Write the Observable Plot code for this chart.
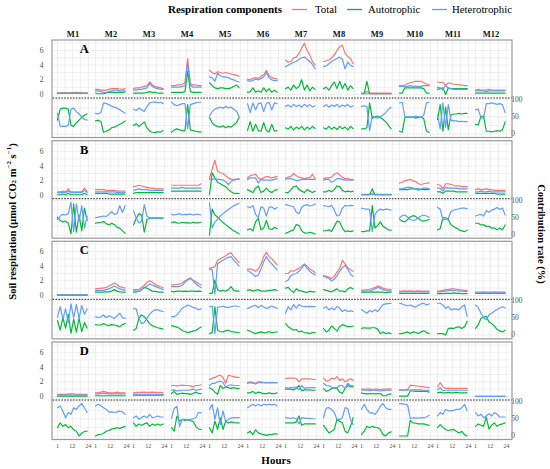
<!DOCTYPE html>
<html><head><meta charset="utf-8">
<script src="https://cdn.jsdelivr.net/npm/d3@7"></script>
<script src="https://cdn.jsdelivr.net/npm/@observablehq/plot@0.6"></script>
<style>
body{margin:0;background:#fff;}
#wrap{position:relative;width:550px;height:469px;overflow:hidden;background:#fff;}
#wrap svg{position:absolute;left:0;}
#wrap svg text{font-family:'Liberation Serif','Times New Roman',serif !important;}
[aria-label^="fx-axis"] text{font-weight:bold;font-size:8.5px;fill:#111;}
[aria-label^="x-axis"] text{font-size:6px;}
</style></head><body><div id="wrap"></div>
<script>
const months = ["M1","M2","M3","M4","M5","M6","M7","M8","M9","M10","M11","M12"];
const hours = [1,3,5,7,9,11,13,15,17,19,21,23];
const seriesNames = ["Total","Autotrophic","Heterotrophic"];
const seriesColors = ["#F8766D","#00BA38","#619CFF"];
const panelLetters = ["A","B","C","D"];
const respTicks = [0,2,4,6];
const respGrid = [0,1,2,3,4,5,6,7];
const rateTicks = [0,50,100];
const rateGrid = [0,25,50,75,100];
const hourTicks = [1,12,24];
const hourGrid = [1,6.5,12,18,24];

// ---- Row A ----
const A_total = [
[0.25,0.2,0.25,0.25,0.2,0.25,0.25,0.3,0.25,0.25,0.2,0.25],
[0.7,0.7,0.6,0.6,0.6,0.7,0.8,0.8,0.8,0.75,0.7,0.8],
[0.8,0.9,0.9,1.0,1.1,1.2,1.7,1.3,1.1,1.0,0.9,0.8],
[1.2,1.2,1.3,1.3,1.4,1.6,4.9,1.5,1.3,1.3,1.2,1.2],
[3.3,3.0,2.8,3.1,3.0,2.9,3.0,2.9,2.8,2.7,2.6,2.5],
[2.1,2.0,2.2,2.3,2.2,2.5,2.7,3.3,2.6,2.3,2.2,2.1],
[4.7,4.4,4.5,5.0,5.1,5.6,6.3,7.0,6.0,5.4,4.5,4.0],
[4.5,4.6,4.7,5.0,5.4,6.0,6.5,6.7,5.6,5.2,4.9,4.2],
[0.2,0.2,0.4,0.2,0.2,0.2,0.2,0.2,0.2,0.2,0.2,0.2],
[1.2,1.2,1.3,1.5,1.6,1.7,1.8,1.8,1.8,1.6,1.4,1.4],
[1.7,1.6,1.7,1.2,1.6,1.5,1.4,1.4,1.3,1.3,1.2,1.2],
[0.6,0.7,0.6,0.6,0.6,0.7,0.6,0.6,0.6,0.6,0.6,0.6]];
const A_auto = [
[0.15,0.15,0.15,0.15,0.15,0.15,0.15,0.15,0.15,0.15,0.15,0.15],
[0.2,0.1,0.1,0.1,0.2,0.3,0.3,0.3,0.3,0.3,0.3,0.35],
[0.2,0.2,0.2,0.2,0.2,0.3,0.4,0.3,0.3,0.2,0.2,0.2],
[0.3,0.3,0.3,0.3,0.3,0.4,3.2,0.4,0.3,0.3,0.3,0.3],
[1.6,1.2,0.9,0.8,0.9,0.9,0.8,0.8,0.9,1.1,1.3,0.9],
[0.3,0.4,0.9,0.3,0.5,0.3,0.9,0.4,0.8,0.3,0.6,0.3],
[0.8,1.0,0.6,1.3,0.8,1.1,2.0,0.6,1.3,0.5,1.0,0.7],
[0.8,1.0,0.6,1.2,1.7,0.8,1.8,0.8,1.5,0.6,1.2,0.8],
[0.1,0.1,1.8,0.1,0.1,0.1,0.1,0.1,0.1,0.1,0.1,0.1],
[0.2,0.2,0.9,0.9,0.9,0.9,0.9,0.9,0.9,0.8,0.2,0.2],
[0.7,0.8,0.9,0.0,0.9,0.8,0.8,0.8,0.8,0.8,0.8,0.8],
[0.2,0.2,0.2,0.2,0.2,0.2,0.2,0.2,0.2,0.2,0.2,0.2]];
const A_het = [
[0.15,0.15,0.15,0.15,0.15,0.15,0.15,0.15,0.15,0.15,0.15,0.15],
[0.5,0.5,0.4,0.3,0.3,0.4,0.5,0.6,0.6,0.5,0.5,0.5],
[0.6,0.6,0.7,0.7,0.8,0.9,1.5,1.1,0.9,0.8,0.7,0.7],
[1.0,1.0,1.0,1.0,1.1,1.2,4.3,1.3,1.0,1.0,1.0,1.0],
[2.4,2.3,1.8,2.9,2.6,2.4,2.4,2.3,2.1,2.0,1.8,1.7],
[1.9,1.8,1.9,2.1,2.0,2.2,2.4,3.0,2.3,2.0,1.9,1.9],
[3.8,4.0,4.2,4.4,4.5,4.8,5.0,5.1,4.8,4.5,4.1,3.5],
[3.8,3.9,4.2,4.5,4.7,4.9,5.1,4.8,3.5,4.4,4.0,3.8],
[0.1,0.1,0.1,0.1,0.1,0.1,0.1,0.1,0.1,0.1,0.1,0.1],
[1.1,1.1,1.1,1.1,1.2,1.1,1.1,1.1,1.1,1.2,1.2,1.2],
[1.0,0.9,0.6,1.3,0.8,0.8,0.7,0.7,0.7,0.7,0.7,0.7],
[0.5,0.5,0.5,0.5,0.4,0.5,0.5,0.5,0.5,0.5,0.5,0.5]];
const A_hetPct = [
[60,23,22,22,25,72,75,65,58,50,42,40],
[60,58,62,90,88,85,80,78,75,70,65,60],
[72,68,75,70,65,80,90,92,93,90,92,88],
[92,85,82,85,88,88,15,85,88,90,92,92],
[52,65,72,75,78,75,80,76,78,72,66,50],
[88,62,90,70,88,90,65,88,92,70,90,88],
[80,84,78,86,80,84,78,86,80,85,78,82],
[80,85,78,84,80,86,78,84,80,86,78,82],
[80,82,80,10,52,48,46,50,55,62,72,78],
[90,92,50,48,50,48,52,50,48,55,90,92],
[55,15,90,20,85,40,38,38,36,37,36,36],
[70,72,48,45,88,88,90,88,86,88,85,62]];
const A_autoPct = [
[40,72,75,75,72,25,22,32,40,48,55,58],
[38,40,36,5,8,12,18,20,24,28,32,38],
[25,30,22,28,35,18,8,5,4,7,5,10],
[5,12,15,12,10,10,85,12,10,8,6,6],
[48,32,25,22,20,24,18,22,20,26,33,48],
[10,36,8,28,10,8,33,10,6,28,8,10],
[18,14,22,12,20,15,22,12,20,14,22,16],
[18,14,22,14,20,13,22,15,20,12,22,16],
[15,15,18,90,45,50,52,48,42,35,25,15],
[8,5,48,50,48,50,46,48,50,44,8,5],
[42,85,8,78,12,55,58,58,60,58,60,60],
[28,26,50,52,8,8,6,8,10,8,12,35]];

// ---- Row B ----
const B_total = [
[0.5,0.5,0.6,0.5,0.9,0.5,0.5,0.5,0.5,0.5,1.0,0.5],
[0.8,0.8,0.8,0.8,0.7,0.7,0.7,0.7,0.6,0.6,0.6,0.6],
[1.2,1.3,1.4,1.3,1.2,1.1,1.0,1.0,0.9,0.9,0.9,0.9],
[1.4,1.4,1.4,1.4,1.4,1.4,1.4,1.4,1.4,1.4,1.4,1.6],
[2.3,3.6,4.8,3.3,3.1,3.0,2.7,2.4,2.2,2.2,2.2,2.3],
[2.4,2.7,2.8,2.9,2.4,2.2,2.4,2.6,2.5,2.4,2.5,2.6],
[2.4,2.5,2.6,3.0,2.7,2.5,2.4,2.3,2.4,2.4,2.9,2.3],
[2.3,2.4,2.4,2.5,2.9,3.1,2.8,2.5,2.3,2.3,2.2,2.2],
[0.15,0.15,0.15,0.15,0.25,0.15,0.15,0.15,0.15,0.15,0.15,0.15],
[1.7,1.8,2.0,2.1,2.2,2.0,1.9,1.6,1.5,1.6,1.7,1.7],
[1.5,1.4,0.9,1.6,1.6,1.5,1.4,1.3,1.3,1.2,1.2,1.2],
[0.8,0.9,0.8,0.8,0.9,0.8,0.8,0.7,0.7,0.7,0.7,0.7]];
const B_auto = [
[0.1,0.1,0.2,0.1,0.3,0.1,0.1,0.1,0.1,0.1,0.3,0.1],
[0.3,0.3,0.3,0.3,0.3,0.2,0.2,0.2,0.2,0.2,0.2,0.2],
[0.3,0.4,0.4,0.4,0.4,0.4,0.4,0.4,0.4,0.4,0.4,0.4],
[0.6,0.6,0.6,0.6,0.6,0.6,0.6,0.6,0.6,0.6,0.6,0.6],
[0.1,3.1,2.4,1.8,1.6,1.4,1.2,0.8,0.5,0.3,0.3,0.3],
[0.8,0.6,0.4,1.0,1.3,0.4,0.6,1.0,0.6,0.4,0.7,0.8],
[0.4,0.4,0.8,1.2,1.3,0.8,0.6,0.4,0.8,0.6,0.4,0.6],
[0.5,0.5,0.7,0.5,0.8,1.3,1.2,0.7,0.5,0.6,0.5,0.6],
[0.1,0.1,0.1,0.1,0.9,0.1,0.1,0.1,0.1,0.1,0.1,0.1],
[0.8,0.8,0.8,0.8,0.9,0.9,0.9,0.9,0.8,0.8,0.8,0.8],
[0.5,0.5,0.3,0.6,0.6,0.6,0.6,0.5,0.5,0.5,0.5,0.5],
[0.3,0.3,0.3,0.3,0.3,0.3,0.3,0.3,0.2,0.2,0.2,0.2]];
const B_het = [
[0.4,0.4,0.4,0.4,0.6,0.4,0.4,0.4,0.4,0.4,0.7,0.4],
[0.5,0.5,0.5,0.5,0.5,0.5,0.5,0.5,0.4,0.4,0.4,0.4],
[0.7,0.8,0.9,0.8,0.8,0.8,0.7,0.7,0.7,0.7,0.7,0.7],
[1.0,1.0,1.0,1.0,1.1,1.0,1.0,1.0,1.0,1.0,1.0,1.0],
[2.2,2.2,2.3,2.2,2.2,2.1,1.9,1.5,1.9,2.1,2.2,2.2],
[2.2,2.4,2.4,2.4,1.7,2.2,2.1,2.1,2.1,2.1,2.2,2.3],
[2.2,2.3,2.3,2.2,2.0,2.1,2.2,2.2,2.2,2.2,2.2,2.2],
[2.1,2.2,2.2,1.8,2.0,2.3,2.3,2.2,2.1,2.1,2.1,2.1],
[0.1,0.1,0.1,0.1,0.1,0.1,0.1,0.1,0.1,0.1,0.1,0.1],
[0.9,0.9,1.0,1.1,1.1,1.0,0.9,0.7,0.9,1.0,1.0,0.9],
[1.0,1.0,0.6,1.1,1.0,1.0,1.0,1.0,0.9,0.9,0.9,0.9],
[0.5,0.5,0.6,0.5,0.5,0.6,0.5,0.5,0.5,0.5,0.5,0.5]];
const B_hetPct = [
[45,55,60,58,62,95,10,90,40,85,20,55],
[50,52,53,55,54,60,68,60,62,85,65,85],
[70,50,35,40,88,55,50,48,50,48,50,48],
[60,58,60,62,58,60,59,61,58,60,60,58],
[93,20,38,45,55,62,68,74,80,85,88,92],
[82,80,85,60,50,82,78,55,80,82,75,80],
[88,86,84,82,66,62,80,86,88,84,86,90],
[85,84,82,86,72,55,58,78,86,84,86,85],
[78,76,75,74,10,60,70,75,72,75,74,72],
[50,56,58,52,45,42,44,50,55,58,55,52],
[80,75,45,45,48,68,72,74,76,78,78,76],
[55,58,60,55,70,66,72,75,80,74,78,58]];
const B_autoPct = [
[52,42,38,40,35,3,90,8,58,12,78,42],
[34,36,37,39,33,29,34,30,22,20,12,5],
[30,48,62,58,8,45,48,50,48,50,48,50],
[36,38,35,34,37,35,36,34,37,35,35,37],
[0,75,58,52,44,36,30,24,18,12,8,3],
[15,18,12,38,48,15,20,42,18,16,22,18],
[5,8,12,15,30,28,12,6,5,8,6,2],
[12,13,15,10,25,40,38,20,10,12,10,12],
[10,10,12,12,85,20,28,38,25,20,15,14],
[46,40,38,45,52,56,54,48,42,40,42,45],
[15,18,50,50,45,30,24,20,15,12,10,14],
[34,34,29,30,25,25,20,20,15,20,15,29]];

// ---- Row C ----
const C_total = [
[0.1,0.1,0.1,0.1,0.1,0.1,0.1,0.1,0.1,0.1,0.1,0.1],
[0.9,0.95,1.0,1.0,1.1,1.3,1.5,1.7,1.5,1.2,1.1,1.0],
[0.8,0.8,0.8,1.1,1.4,1.8,2.0,1.8,1.5,1.35,1.2,1.05],
[1.45,1.45,1.5,1.55,1.7,2.0,2.2,2.4,2.1,1.9,1.6,1.45],
[3.7,3.8,3.9,4.8,5.0,5.2,5.4,5.7,5.8,5.3,4.9,4.5],
[3.6,3.6,3.5,3.3,3.6,4.3,5.3,5.9,5.3,5.0,4.6,4.2],
[3.0,3.0,3.4,3.3,3.5,3.7,4.0,4.3,4.0,3.6,3.4,3.1],
[2.7,2.6,2.5,2.3,2.6,3.2,3.7,4.8,4.3,3.8,3.5,3.3],
[0.75,0.75,0.8,0.85,0.95,1.1,1.3,1.2,1.0,0.9,0.85,0.8],
[0.6,0.6,0.65,0.6,0.65,0.6,0.6,0.65,0.6,0.6,0.6,0.6],
[0.6,0.65,0.7,0.8,0.8,0.9,0.9,0.85,0.8,0.75,0.7,0.7],
[0.45,0.45,0.45,0.5,0.45,0.45,0.45,0.5,0.45,0.45,0.45,0.45]];
const C_auto = [
[0.05,0.05,0.05,0.05,0.05,0.05,0.05,0.05,0.05,0.05,0.05,0.05],
[0.45,0.45,0.45,0.45,0.5,0.5,0.6,0.8,0.6,0.5,0.45,0.45],
[0.45,0.5,0.55,0.8,1.1,1.0,0.8,0.6,0.55,0.5,0.45,0.45],
[0.55,0.5,0.6,0.6,0.55,0.6,0.55,0.6,0.6,0.55,0.6,0.55],
[0.3,0.3,2.1,0.8,0.6,0.7,0.6,0.8,1.2,0.7,0.6,0.6],
[0.7,0.8,0.6,0.7,0.8,0.6,0.6,0.6,0.7,0.7,0.8,0.7],
[1.0,1.1,0.7,0.4,0.9,0.7,0.6,0.5,0.4,0.6,0.5,0.5],
[0.8,0.7,0.6,0.5,0.7,0.9,0.6,0.6,0.5,0.9,1.1,0.9],
[0.45,0.45,0.45,0.45,0.5,0.45,0.45,0.45,0.45,0.4,0.45,0.45],
[0.3,0.3,0.3,0.3,0.3,0.3,0.3,0.3,0.3,0.3,0.3,0.3],
[0.25,0.25,0.25,0.3,0.3,0.3,0.35,0.3,0.3,0.25,0.25,0.25],
[0.27,0.27,0.27,0.27,0.27,0.27,0.27,0.27,0.27,0.27,0.27,0.27]];
const C_het = [
[0.1,0.1,0.1,0.1,0.1,0.1,0.1,0.1,0.1,0.1,0.1,0.1],
[0.7,0.7,0.7,0.7,0.8,0.9,1.1,1.3,1.1,0.9,0.8,0.7],
[0.65,0.6,0.55,0.8,1.1,1.3,1.55,1.4,1.25,1.1,0.95,0.8],
[1.2,1.2,1.2,1.25,1.4,1.8,2.1,2.3,2.0,1.6,1.3,1.1],
[3.6,3.5,0.2,4.3,4.6,4.8,5.0,5.2,5.3,4.8,4.4,4.0],
[3.4,3.2,2.9,2.6,2.8,3.6,4.6,5.3,4.7,4.3,3.9,3.5],
[1.9,2.1,2.7,2.9,3.0,3.3,3.7,4.2,3.7,3.3,3.0,2.8],
[2.6,2.5,2.3,2.0,2.2,2.7,3.3,3.8,4.1,3.6,2.9,2.6],
[0.6,0.6,0.6,0.65,0.75,0.9,1.1,1.0,0.8,0.7,0.65,0.6],
[0.5,0.5,0.55,0.5,0.55,0.5,0.5,0.55,0.5,0.5,0.5,0.5],
[0.5,0.5,0.55,0.6,0.65,0.7,0.7,0.65,0.6,0.6,0.55,0.55],
[0.36,0.36,0.36,0.36,0.36,0.36,0.36,0.36,0.36,0.36,0.36,0.36]];
const C_hetPct = [
[52,82,46,76,36,90,50,88,48,86,60,76],
[53,51,52,58,50,56,52,48,56,63,50,48],
[77,76,48,33,36,48,60,68,73,73,70,68],
[53,53,58,68,78,82,87,84,80,78,73,76],
[82,84,4,80,82,84,80,80,82,84,84,82],
[77,80,84,86,79,86,81,77,80,84,80,78],
[63,82,73,88,78,88,84,82,82,83,82,82],
[78,82,73,78,73,82,78,68,73,68,70,68],
[73,68,63,71,67,73,68,78,88,90,91,92],
[92,90,87,84,87,83,81,86,90,92,87,90],
[92,92,87,77,82,73,75,75,73,82,87,55],
[87,80,64,49,44,58,63,69,74,78,82,78]];
const C_autoPct = [
[42,14,50,20,60,5,46,8,48,10,36,20],
[30,29,29,33,29,27,30,29,27,24,30,33],
[14,19,48,58,53,43,33,27,24,21,19,17],
[27,25,23,19,13,10,7,9,11,13,19,23],
[4,7,82,14,10,9,12,14,10,9,8,7],
[14,11,7,4,7,9,6,7,10,6,8,9],
[33,24,19,14,16,9,11,7,6,4,7,7],
[19,9,14,26,19,11,24,30,27,24,24,26],
[19,21,20,20,21,21,17,4,9,4,6,4],
[4,4,7,9,4,9,8,4,9,12,7,4],
[4,4,4,0,19,20,19,22,24,19,24,40],
[19,29,48,52,54,38,33,26,16,12,9,14]];

// ---- Row D ----
const D_total = [
[0.3,0.3,0.3,0.3,0.35,0.35,0.35,0.3,0.3,0.3,0.3,0.3],
[0.5,0.5,0.6,0.7,0.6,0.5,0.5,0.5,0.6,0.5,0.5,0.5],
[0.5,0.55,0.55,0.55,0.6,0.55,0.55,0.6,0.55,0.55,0.55,0.5],
[1.5,1.5,1.45,1.5,1.55,1.5,1.5,1.45,1.3,1.5,1.5,1.6],
[2.3,2.5,2.6,2.8,2.9,2.6,1.8,2.9,2.8,2.7,2.6,2.6],
[1.9,2.0,1.9,1.8,2.0,2.0,1.9,1.9,1.9,1.9,1.9,1.9],
[2.45,2.5,2.5,2.5,2.45,2.0,2.4,2.4,2.4,2.4,2.35,2.3],
[2.5,2.1,2.2,2.5,2.4,2.7,2.2,2.4,2.0,2.2,2.4,2.2],
[1.0,1.0,1.0,1.05,0.95,1.0,1.0,0.95,1.0,1.0,1.05,1.0],
[0.9,0.9,0.9,0.95,1.55,1.5,1.45,1.4,1.35,1.3,1.25,1.2],
[1.3,1.9,1.3,1.1,1.15,1.1,1.1,1.1,1.1,1.1,1.1,1.1],
[0.02,0.02,0.02,0.02,0.02,0.02,0.02,0.02,0.02,0.02,0.02,0.02]];
const D_auto = [
[0.05,0.05,0.05,0.05,0.05,0.05,0.05,0.05,0.05,0.05,0.05,0.05],
[0.1,0.1,0.1,0.1,0.1,0.1,0.1,0.1,0.1,0.1,0.1,0.1],
[0.2,0.2,0.2,0.2,0.2,0.2,0.2,0.2,0.2,0.2,0.2,0.2],
[0.4,0.7,0.3,0.4,0.45,0.4,0.4,0.3,0.4,0.6,0.4,0.4],
[1.2,1.0,0.6,0.3,1.5,1.1,1.3,1.2,1.1,1.2,1.1,1.1],
[0.5,0.5,0.7,0.4,0.6,0.5,0.4,0.4,0.5,0.4,0.4,0.5],
[1.0,1.0,1.0,0.9,1.1,1.5,0.8,0.9,0.9,0.9,0.85,0.85],
[1.1,0.7,0.85,1.1,1.2,1.1,0.6,0.4,1.1,1.5,1.3,1.3],
[0.45,0.4,0.35,0.4,0.4,0.35,0.4,0.4,0.1,0.1,0.3,0.35],
[0.05,0.05,0.05,0.05,0.75,0.75,0.7,0.7,0.7,0.7,0.7,0.6],
[0.5,0.6,0.5,0.5,0.55,0.5,0.5,0.55,0.5,0.5,0.5,0.5],
[0,0,0,0,0,0,0,0,0,0,0,0]];
const D_het = [
[0.2,0.2,0.2,0.2,0.2,0.2,0.2,0.2,0.2,0.2,0.2,0.2],
[0.35,0.35,0.4,0.45,0.4,0.35,0.35,0.35,0.35,0.35,0.35,0.35],
[0.3,0.3,0.3,0.3,0.3,0.3,0.3,0.3,0.3,0.3,0.3,0.3],
[0.85,0.9,0.75,0.8,0.85,0.85,0.85,0.9,1.0,0.85,0.9,1.0],
[1.5,1.8,1.8,2.0,2.1,1.9,1.3,1.5,1.6,1.5,1.5,1.5],
[1.8,1.9,1.8,1.7,1.9,1.9,1.9,1.9,1.9,1.9,1.9,1.9],
[1.2,1.1,1.2,1.2,1.3,0.9,1.5,1.1,1.2,1.2,1.2,1.2],
[1.8,1.5,1.45,1.3,1.1,1.2,1.5,1.5,1.1,1.8,1.5,1.5],
[0.85,0.85,0.85,0.8,0.85,0.85,0.8,0.75,0.8,0.85,0.85,0.85],
[0.85,0.85,0.85,0.85,0.9,0.9,0.9,0.9,0.9,0.85,0.85,0.85],
[0.9,1.2,0.8,0.85,0.85,0.85,0.85,0.85,0.85,0.85,0.85,0.85],
[0.02,0.02,0.02,0.02,0.02,0.02,0.02,0.02,0.02,0.02,0.02,0.02]];
const D_hetPct = [
[82,87,72,53,68,63,82,77,87,94,82,68],
[87,92,88,82,77,69,70,68,70,72,70,63],
[53,58,48,54,58,53,63,53,55,58,55,55],
[52,80,86,28,48,48,45,48,50,53,68,68],
[77,92,48,82,33,73,43,48,52,53,53,53],
[82,87,92,87,92,87,92,90,92,90,92,87],
[53,52,51,53,50,35,53,52,51,51,50,50],
[53,81,82,77,68,48,48,53,82,80,48,33],
[77,92,77,67,67,63,73,87,94,82,77,77],
[94,93,92,90,51,53,52,52,53,53,55,60],
[58,68,63,77,73,73,74,77,77,82,92,73],
[68,58,63,53,58,65,58,68,63,55,55,55]];
const D_autoPct = [
[24,38,28,33,24,28,18,14,0,8,13,14],
[0,4,5,8,14,16,20,22,24,22,25,28],
[38,28,35,31,35,38,28,35,31,35,31,35],
[24,14,58,43,48,45,48,44,43,28,20,19],
[24,9,43,19,53,19,43,38,41,39,38,38],
[9,14,4,18,9,6,4,2,4,4,6,6],
[38,38,38,38,41,58,31,35,35,35,35,35],
[31,20,9,14,19,48,43,38,14,9,28,53],
[4,14,28,24,28,25,24,19,4,0,9,12],
[0,0,0,0,45,38,37,35,35,35,33,31],
[24,33,25,19,16,18,19,14,9,14,4,0],
[28,35,31,28,55,20,31,38,28,33,35,38]];

const rowData = {
  A: {total: A_total, auto: A_auto, het: A_het, hetPct: A_hetPct, autoPct: A_autoPct},
  B: {total: B_total, auto: B_auto, het: B_het, hetPct: B_hetPct, autoPct: B_autoPct},
  C: {total: C_total, auto: C_auto, het: C_het, hetPct: C_hetPct, autoPct: C_autoPct},
  D: {total: D_total, auto: D_auto, het: D_het, hetPct: D_hetPct, autoPct: D_autoPct}
};

function longForm(arr, series) {
  const out = [];
  arr.forEach((vals, mi) => vals.forEach((v, hi) => out.push({month: months[mi], hour: hours[hi], value: v, series})));
  return out;
}

// layout
const W = 550, H = 469;
const ML = 53.3, MR = 40.7, PI = 0.1865;
const rowTop = [40, 140.7, 241.3, 342];
const topH = 58, botH = 39.5;
const respDomain = [-0.545, 7.36];
const rateDomain = [-11.6, 102.9];
const serif = "'Liberation Serif','Times New Roman',serif";
const LW = 1.2;
const wrap = document.getElementById("wrap");

function place(svg, top) { svg.style.top = top + "px"; wrap.appendChild(svg); }

function common(mt, mb, h) {
  return {
    width: W, height: h + mt + mb, marginLeft: ML, marginRight: MR, marginTop: mt, marginBottom: mb,
    style: {fontFamily: serif, fontSize: "7.5px", color: "#4d4d4d", background: "transparent", overflow: "visible"},
    color: {domain: seriesNames, range: seriesColors}
  };
}

function makeTop(i) {
  const L = panelLetters[i], d = rowData[L];
  const header = i === 0;
  const mt = header ? 14 : 0;
  const byS = {Total: longForm(d.total, "Total"), Autotrophic: longForm(d.auto, "Autotrophic"), Heterotrophic: longForm(d.het, "Heterotrophic")};
  const svg = Plot.plot({
    ...common(mt, 0, topH),
    fx: {domain: months, paddingInner: PI, paddingOuter: 0, axis: header ? "top" : null, tickSize: 0, tickPadding: 4, label: null},
    x: {domain: [1, 24], axis: null},
    y: {domain: respDomain, axis: "left", ticks: respTicks, tickSize: 0, tickPadding: 14, label: null},
    marks: [
      Plot.ruleY(respGrid, {stroke: "#e6e6e6", strokeWidth: 0.6, insetLeft: -3.6, insetRight: -3.6}),
      Plot.ruleX(hourGrid, {stroke: "#e6e6e6", strokeWidth: 0.6}),
      ...seriesNames.map(s => Plot.line(byS[s], {x: "hour", y: "value", fx: "month", stroke: "series", strokeWidth: LW})),
      Plot.text([{month: "M1", label: L}], {fx: "month", text: "label", frameAnchor: "top-left", dx: 26.7, dy: 8.5,
        textAnchor: "middle", lineAnchor: "middle", fontSize: 12.5, fontWeight: "bold", fill: "#000"})
    ]
  });
  place(svg, rowTop[i] - mt);
}

function makeBottom(i) {
  const L = panelLetters[i], d = rowData[L];
  const last = i === 3;
  const mb = last ? 12 : 0;
  const auto = longForm(d.autoPct, "Autotrophic");
  const het = longForm(d.hetPct, "Heterotrophic");
  const svg = Plot.plot({
    ...common(0, mb, botH),
    fx: {domain: months, paddingInner: PI, paddingOuter: 0, axis: null},
    x: {domain: [1, 24], axis: last ? "bottom" : null, ticks: hourTicks, tickSize: 0, tickPadding: 4, label: null},
    y: {domain: rateDomain, axis: "right", ticks: rateTicks, tickSize: 0, tickPadding: 4.7, label: null},
    marks: [
      Plot.ruleY(rateGrid, {stroke: "#e6e6e6", strokeWidth: 0.6, insetLeft: -3.6, insetRight: -3.6}),
      Plot.ruleX(hourGrid, {stroke: "#e6e6e6", strokeWidth: 0.6}),
      Plot.line(auto, {x: "hour", y: "value", fx: "month", stroke: "series", strokeWidth: LW}),
      Plot.line(het, {x: "hour", y: "value", fx: "month", stroke: "series", strokeWidth: LW})
    ]
  });
  place(svg, rowTop[i] + topH);
}

for (let i = 0; i < 4; i++) { makeTop(i); makeBottom(i); }

// overlay: row frames, dotted separators, titles, legend
const ns = "http://www.w3.org/2000/svg";
const ov = document.createElementNS(ns, "svg");
ov.setAttribute("width", W); ov.setAttribute("height", H);
ov.style.top = "0px"; ov.style.pointerEvents = "none";
let s = "";
rowTop.forEach(t => {
  s += `<rect x="52" y="${t}" width="460" height="97.5" fill="none" stroke="#9a9a9a" stroke-width="1.2"/>`;
  s += `<line x1="52.6" x2="511.4" y1="${t + topH}" y2="${t + topH}" stroke="#222" stroke-width="1" stroke-dasharray="1.6,1.3"/>`;
});
s += `<text x="168" y="9" font-size="11" font-weight="bold" dominant-baseline="central" fill="#000">Respiration components</text>`;
const leg = [[292, 307, 315, "Total"], [347, 362, 368, "Autotrophic"], [432, 447, 452, "Heterotrophic"]];
leg.forEach((l, k) => {
  s += `<line x1="${l[0]}" x2="${l[1]}" y1="9.5" y2="9.5" stroke="${seriesColors[k]}" stroke-width="1.3"/>`;
  s += `<text x="${l[2]}" y="9" font-size="10.8" dominant-baseline="central" fill="#000">${l[3]}</text>`;
});
s += `<text transform="translate(12,221.5) rotate(-90)" text-anchor="middle" dominant-baseline="central" font-size="10.5" font-weight="bold" fill="#000">Soil respiration (μmol CO<tspan font-size="7" dy="2">2</tspan><tspan dy="-2"> m</tspan><tspan font-size="7" dy="-3.5">−2</tspan><tspan dy="3.5"> s</tspan><tspan font-size="7" dy="-3.5">−1</tspan><tspan dy="3.5">)</tspan></text>`;
s += `<text transform="translate(541,234) rotate(90)" text-anchor="middle" dominant-baseline="central" font-size="10.5" font-weight="bold" fill="#000">Contribution rate (%)</text>`;
s += `<text x="276" y="460" text-anchor="middle" dominant-baseline="central" font-size="11" font-weight="bold" fill="#000">Hours</text>`;
ov.innerHTML = s;
wrap.appendChild(ov);
</script>
</body></html>
